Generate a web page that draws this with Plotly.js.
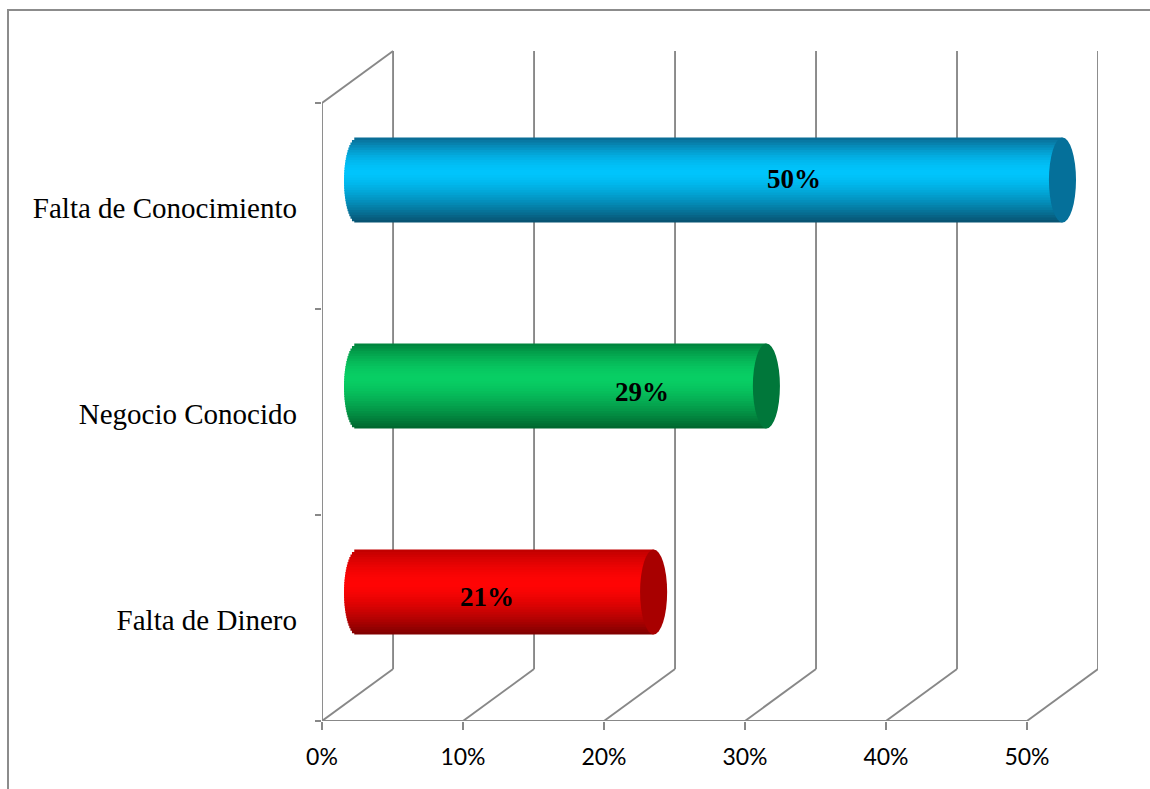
<!DOCTYPE html>
<html>
<head>
<meta charset="utf-8">
<script src="https://cdn.plot.ly/plotly-3.0.1.min.js"></script>
<style>
  html, body { margin: 0; padding: 0; background: #ffffff; }
  #chart { width: 1150px; height: 789px; }
  #frame { position: absolute; left: 7px; top: 9px; width: 1300px; height: 900px;
           border-left: 2px solid #8c8c8c; border-top: 2px solid #8c8c8c; pointer-events: none; }
</style>
</head>
<body>
<div id="chart"></div>
<div id="frame"></div>
<script>
// ---- data ----
const categories = ["Falta de Dinero", "Negocio Conocido", "Falta de Conocimiento"];
const values = [21, 29, 50];
const valueLabels = ["21%", "29%", "50%"];
const tickValues = [0, 10, 20, 30, 40, 50];
const tickLabels = ["0%", "10%", "20%", "30%", "40%", "50%"];

// ---- style / 3D geometry ----
const DX = 5.04;      // depth offset in x units
const DY = 0.2524;    // depth offset in category units
const BAR_W = 0.4126; // bar thickness in category units
const CAP_A = 0.96;   // half-width of end ellipse in x units
const GRID = '#888888';
const palettes = [
  {top: [190, 0, 0],  mid: [255, 4, 4],   bot: [125, 0, 0],  cap: '#a80000'},
  {top: [0, 130, 60], mid: [8, 206, 100], bot: [0, 100, 45], cap: '#00773a'},
  {top: [10, 105, 145], mid: [0, 196, 252], bot: [8, 80, 110], cap: '#05709a'}
];
// label placement (x in axis units, y offset from bar centre)
const labelX = [11.7, 22.7, 33.5];
const labelDY = [-0.025, -0.03, 0.004];

function lerp(a, b, t) { return a.map((v, i) => Math.round(v + (b[i] - v) * t)); }
function colorAt(p, pal) {
  const h = 0.42;
  let c;
  if (p < h) { const t = p / h; c = lerp(pal.top, pal.mid, Math.sin(t * Math.PI / 2)); }
  else { const t = (p - h) / (1 - h); c = lerp(pal.mid, pal.bot, Math.pow(t, 1.4)); }
  return 'rgb(' + c.join(',') + ')';
}

const N = 34;
const STEP = BAR_W / N;
const OVER = 0.006;   // downward overlap so strips leave no seams
const traces = [];
for (let s = 0; s < N; s++) {
  const p = (s + 0.5) / N;               // from top
  const u = 2 * p - 1;
  const half = CAP_A * Math.sqrt(Math.max(0, 1 - u * u));
  const ext = (s < N - 1) ? OVER : 0;
  const ys = [], xs = [], bases = [], cols = [];
  categories.forEach((c, i) => {
    const yc = i + 0.5 + DY / 2;
    const top = yc + BAR_W / 2 - s * STEP;
    const bot = top - STEP - ext;
    ys.push((top + bot) / 2);
    bases.push(DX / 2 - half);
    xs.push(values[i] + half);
    cols.push(colorAt(p, palettes[i]));
  });
  traces.push({
    type: 'bar', orientation: 'h', y: ys, x: xs, base: bases,
    width: STEP + ext,
    marker: {color: cols, line: {width: 0}},
    hoverinfo: 'skip', showlegend: false, xaxis: 'x', yaxis: 'y'
  });
}
// invisible trace carrying the category axis
traces.push({type: 'scatter', x: [0], y: [0.5], mode: 'markers', marker: {opacity: 0},
             hoverinfo: 'skip', showlegend: false, xaxis: 'x', yaxis: 'y2'});

const shapes = [];
function line(x0, y0, x1, y1) {
  shapes.push({type: 'line', xref: 'x', yref: 'y', x0, y0, x1, y1, layer: 'below',
               line: {color: GRID, width: 1.9}});
}
const nCat = categories.length;
tickValues.forEach(v => {
  line(v + DX, DY, v + DX, nCat + DY);   // back wall gridline
  line(v, 0, v + DX, DY);                // floor diagonal
});
line(0, 0, tickValues[tickValues.length - 1], 0);   // front floor edge
line(0, 0, 0, nCat);                                 // front left edge
line(0, nCat, DX, nCat + DY);                        // top left diagonal

// end caps
categories.forEach((c, i) => {
  const yc = i + 0.5 + DY / 2;
  const xe = values[i] + DX / 2;
  shapes.push({type: 'circle', xref: 'x', yref: 'y', layer: 'above',
               x0: xe - CAP_A, x1: xe + CAP_A, y0: yc - BAR_W / 2, y1: yc + BAR_W / 2,
               fillcolor: palettes[i].cap, line: {width: 0}});
});

const annotations = categories.map((c, i) => ({
  xref: 'x', yref: 'y', x: labelX[i], y: i + 0.5 + DY / 2 + labelDY[i],
  text: '<b>' + valueLabels[i] + '</b>', showarrow: false,
  font: {family: 'Liberation Serif, Times New Roman, serif', size: 27, color: '#000000'},
  xanchor: 'center', yanchor: 'middle'
}));

const layout = {
  width: 1150, height: 789, autosize: false,
  margin: {l: 322, r: 52, t: 49, b: 68, pad: 0},
  paper_bgcolor: '#ffffff', plot_bgcolor: 'rgba(0,0,0,0)',
  barmode: 'overlay', showlegend: false,
  xaxis: {range: [0, 55.04], tickvals: tickValues, ticktext: tickLabels,
          ticks: 'outside', ticklen: 8, tickcolor: GRID, tickwidth: 1.9,
          ticklabelstandoff: 7,
          showgrid: false, zeroline: false, showline: false, fixedrange: true,
          tickfont: {family: 'Lato, Carlito, sans-serif', size: 23, color: '#000000'}},
  yaxis: {range: [0, nCat + DY + 0.01], tickvals: [0, 1, 2, 3], ticktext: ['', '', '', ''],
          ticks: 'outside', ticklen: 6, tickcolor: GRID, tickwidth: 1.9,
          showgrid: false, zeroline: false, showline: false, fixedrange: true},
  yaxis2: {overlaying: 'y', side: 'left', range: [0, nCat + DY + 0.01],
           tickvals: categories.map((c, i) => i + 0.49), ticktext: categories,
           ticks: '', ticklabelstandoff: 24, showgrid: false, zeroline: false, showline: false,
           fixedrange: true,
           tickfont: {family: 'Liberation Serif, Times New Roman, serif', size: 29, color: '#000000'}},
  shapes, annotations
};

Plotly.newPlot('chart', traces, layout, {displayModeBar: false, staticPlot: true});
</script>
</body>
</html>
